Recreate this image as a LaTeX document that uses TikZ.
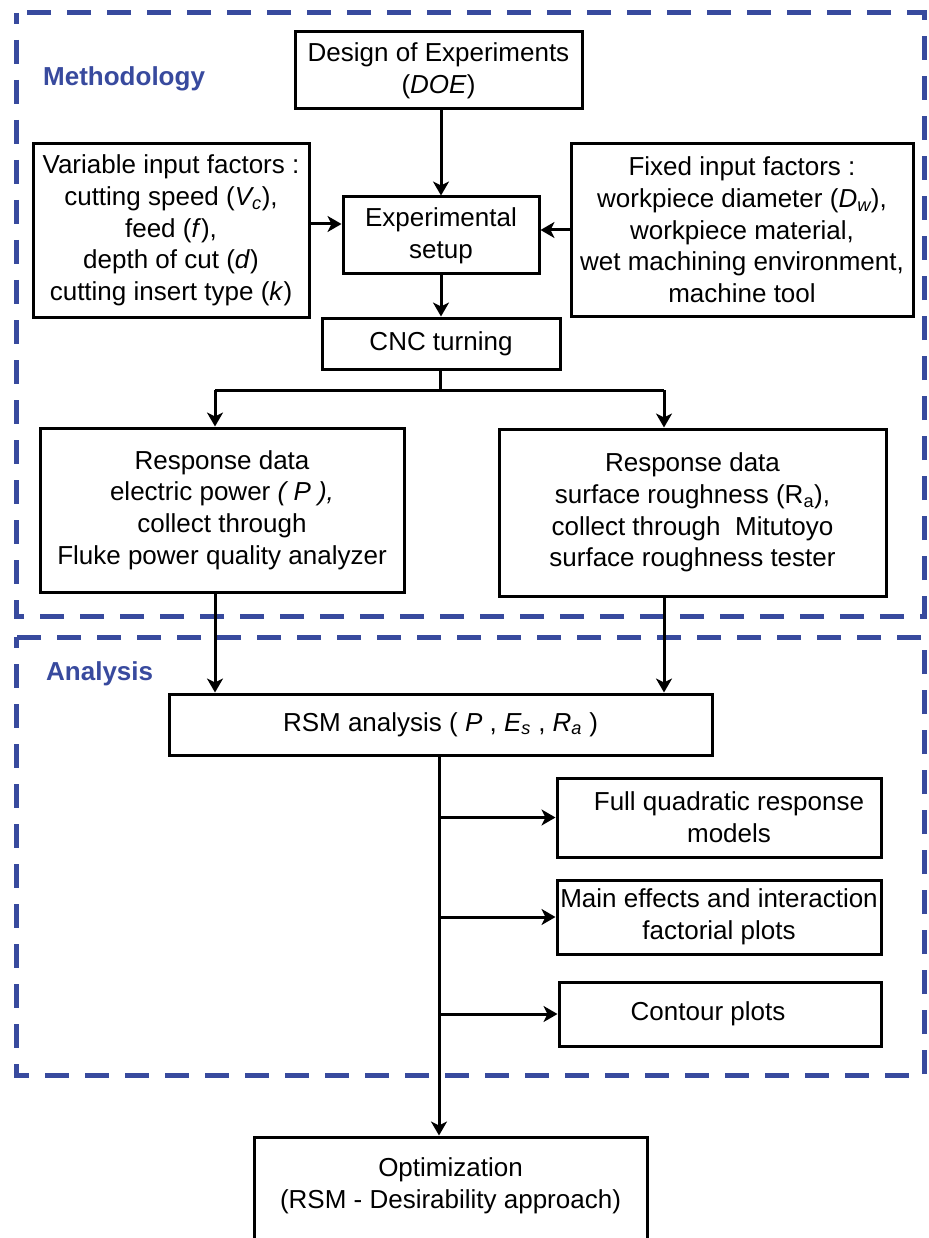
\documentclass[tikz,border=0pt]{standalone}
\usepackage{fontspec}
\setmainfont{Liberation Sans}
\usetikzlibrary{arrows.meta}
\definecolor{frameblue}{RGB}{56,74,158}
\tikzset{
  box/.style={draw=black, line width=3pt, rectangle, inner sep=0pt, align=center,
    font=\fontsize{26}{31.7}\selectfont},
  txt/.style={inner sep=0pt, align=center, font=\fontsize{26}{31.7}\selectfont},
  arr/.style={line width=3pt, -{Stealth[length=14pt,width=16pt,inset=4pt]}},
  line/.style={line width=3pt},
  frame/.style={draw=frameblue, line width=5pt, dash pattern=on 24pt off 16pt, dash phase=13pt},
  seclabel/.style={text=frameblue, font=\fontsize{26}{30}\selectfont\bfseries, inner sep=0pt, anchor=west}
}
\begin{document}
\begin{tikzpicture}[x=1pt,y=-1pt]
\clip (0,0) rectangle (928,1238);
\fill[white] (0,0) rectangle (928,1238);

% section frames
\draw[frame] (16,13) rectangle (924,616);
\draw[frame] (16,637) rectangle (924,1075);
\node[seclabel] (methlabel) at (43,79) {Methodology};
\node[seclabel] (analabel) at (46,674) {Analysis};

% boxes
\node[box, minimum width=287pt, minimum height=77pt] (doe) at (438.5,70.5)
  {Design of Experiments\\(\textit{DOE})};
\node[box, minimum width=276pt, minimum height=173pt] (var) at (171,230.5)
  {Variable input factors :\\cutting speed (\textit{V\textsubscript{c}}),\\feed (\textit{f}),\\depth of cut (\textit{d})\\cutting insert type (\textit{k})};
\node[box, minimum width=196pt, minimum height=77pt] (exp) at (441,235.5)
  {Experimental\\setup};
\node[box, minimum width=342pt, minimum height=172pt] (fixed) at (742,230)
  {Fixed input factors :\\workpiece diameter (\textit{D\textsubscript{w}}),\\workpiece material,\\wet machining environment,\\machine tool};
\node[box, minimum width=238pt, minimum height=51pt] (cnc) at (441,343.5)
  {CNC turning};
\node[box, minimum width=364pt, minimum height=164pt] (respl) at (222,510)
  {Response data\\electric power \textit{( P ),}\\collect through\\Fluke power quality analyzer};
\node[box, minimum width=387pt, minimum height=167pt] (respr) at (692.5,512.5)
  {Response data\\surface roughness (R\textsubscript{a}),\\collect through~~Mitutoyo\\surface roughness tester};
\node[box, minimum width=543pt, minimum height=61pt] (rsm) at (440.5,724.5)
  {RSM analysis ( \textit{P} , \textit{E\textsubscript{s}} , \textit{R\textsubscript{a}} )};
\node[box, minimum width=324pt, minimum height=79pt] (full) at (719,817.5)
  {\hspace*{20pt}Full quadratic response\\\hspace*{20pt}models};
\node[box, minimum width=324pt, minimum height=74pt] (main) at (719,917)
  {Main effects and interaction\\factorial plots};
\node[box, minimum width=322pt, minimum height=64pt] (contour) at (720,1014)
  {Contour plots\hspace*{24pt}};
\node[box, minimum width=393pt, minimum height=140pt] (opt) at (450.5,1207) {};
\node[txt] (optlabel) at (450.5,1186)
  {Optimization\\(RSM - Desirability approach)};

% connectors
\draw[arr] (doe.south -| exp.north) -- (exp.north);
\coordinate (vy) at (0,224);
\coordinate (fy) at (0,230);
\draw[arr] (var.east |- vy) -- (exp.west |- vy);
\draw[arr] (fixed.west |- fy) -- (exp.east |- fy);
\draw[arr] (exp.south) -- (cnc.north);

\coordinate (split) at (440,390);
\coordinate (bl) at (215,390);
\coordinate (br) at (664,390);
\draw[line] (cnc.south -| split) -- (split);
\draw[line] (bl) -- (br);
\draw[arr] (bl) -- (bl |- respl.north);
\draw[arr] (br) -- (br |- respr.north);
\draw[arr] (bl |- respl.south) -- (bl |- rsm.north);
\draw[arr] (br |- respr.south) -- (br |- rsm.north);

\coordinate (spine) at (439,0);
\draw[arr] (spine |- rsm.south) -- (spine |- opt.north);
\draw[arr] (spine |- full.west) -- (full.west);
\draw[arr] (spine |- main.west) -- (main.west);
\draw[arr] (spine |- contour.west) -- (contour.west);
\end{tikzpicture}
\end{document}
